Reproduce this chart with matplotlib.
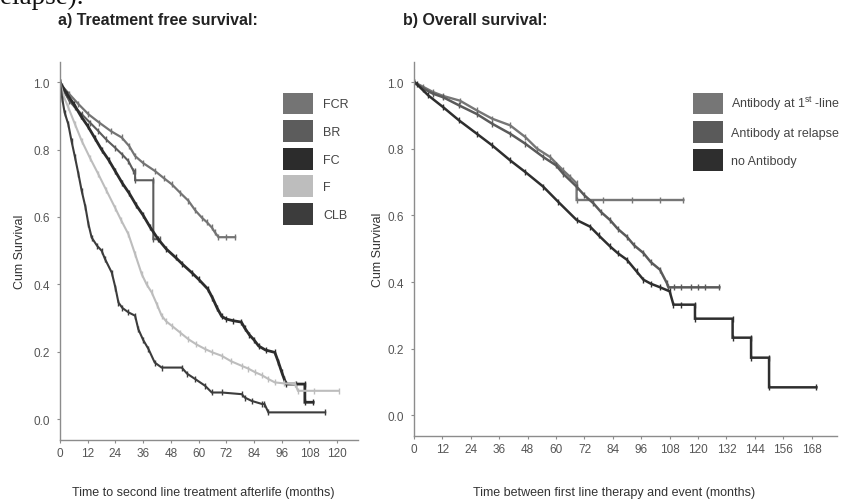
import numpy as np
import matplotlib
matplotlib.use("Agg")
import matplotlib.pyplot as plt
from matplotlib.patches import Patch

plt.rcParams['font.family'] = ['Liberation Sans', 'DejaVu Sans']
plt.rcParams['mathtext.fontset'] = 'custom'
plt.rcParams['mathtext.rm'] = 'Liberation Sans'

#================================== data, panel a (months, cum survival)
fcr_t = [0, 0.7, 4, 8, 12.3, 17, 22, 26.7, 30, 32.5, 36, 41, 45, 48.4, 52, 55.6, 58.5, 61.4, 63.5, 65.7, 67, 68.6, 72, 75.8]
fcr_s = [1.0, 0.99, 0.965, 0.935, 0.905, 0.88, 0.855, 0.836, 0.81, 0.781, 0.76, 0.737, 0.715, 0.697, 0.672, 0.648, 0.62, 0.598, 0.585, 0.569, 0.555, 0.54, 0.54, 0.54]

br_t = [0, 2, 4, 6.5, 9.4, 13, 16.6, 20, 23.8, 27, 29.6, 31.8, 32.5, 32.5, 40.4, 40.4, 43.3]
br_s = [1.0, 0.97, 0.945, 0.925, 0.905, 0.88, 0.855, 0.83, 0.806, 0.785, 0.766, 0.737, 0.737, 0.709, 0.709, 0.534, 0.534]

fc_t = [0, 3, 6, 9, 12, 15, 18, 21, 24, 27, 30, 33, 36, 39, 42.5, 46, 50, 53, 57, 60, 64, 66, 68, 70, 72, 75,
        78.5, 80, 82, 84, 86, 89, 93, 94.5, 96, 97, 98, 102, 106, 106, 109.6]
fc_s = [1.0, 0.965, 0.935, 0.9, 0.87, 0.835, 0.80, 0.77, 0.735, 0.70, 0.67, 0.635, 0.605, 0.57, 0.534, 0.505, 0.48, 0.46, 0.435, 0.415, 0.386, 0.36, 0.33, 0.305, 0.297, 0.292,
        0.288, 0.27, 0.25, 0.235, 0.217, 0.205, 0.198, 0.17, 0.139, 0.12, 0.104, 0.104, 0.104, 0.05, 0.05]

f_t = [0, 1.5, 3.6, 6.5, 9.4, 13, 16.6, 20, 23.8, 26.5, 29.6, 32.5, 35.4, 37.5, 39.7, 42, 44, 46, 48.4, 52, 55.6, 59, 62.8, 66, 70, 74,
       78.7, 81.5, 84.5, 87.5, 90.2, 93, 97, 101.8, 103, 110, 120.6]
f_s = [1.0, 0.96, 0.925, 0.875, 0.826, 0.775, 0.727, 0.68, 0.628, 0.59, 0.549, 0.49, 0.43, 0.40, 0.376, 0.34, 0.307, 0.29, 0.277, 0.257, 0.237, 0.222, 0.208, 0.198, 0.188, 0.172,
       0.158, 0.15, 0.139, 0.13, 0.119, 0.109, 0.106, 0.104, 0.084, 0.084, 0.084]

clb_t = [0, 1, 2, 3.6, 5, 6.5, 8, 9.4, 11, 12.3, 13.7, 16, 18, 19.5, 22.4, 24, 25.3, 27, 29.6, 32.5, 33.9, 36, 38.3, 41, 44,
         52.7, 55, 58.5, 62.8, 65.7, 70, 78.7, 80, 83, 87.4, 88.5, 90.2, 114.8]
clb_s = [1.0, 0.95, 0.91, 0.875, 0.825, 0.777, 0.727, 0.677, 0.63, 0.579, 0.539, 0.515, 0.50, 0.475, 0.435, 0.39, 0.346, 0.33, 0.317, 0.307, 0.267, 0.235, 0.208, 0.168, 0.153,
         0.153, 0.135, 0.119, 0.099, 0.079, 0.079, 0.074, 0.064, 0.054, 0.045, 0.045, 0.02, 0.02]

labels_a = ['FCR', 'BR', 'FC', 'F', 'CLB']
colors_a = ['#747474', '#5c5c5c', '#2c2c2c', '#bdbdbd', '#3c3c3c']
widths_a = [1.6, 1.5, 2.0, 1.5, 1.5]
ticks_a = [0, 12, 24, 36, 48, 60, 72, 84, 96, 108, 120]

#================================== data, panel b
ab1_t = [0, 4, 8, 12.4, 19.4, 26.5, 33, 40.6, 47, 52, 57.5, 63, 66, 68.7, 68.7, 80, 92, 104, 113.8]
ab1_s = [1.0, 0.985, 0.97, 0.958, 0.944, 0.915, 0.89, 0.87, 0.835, 0.80, 0.775, 0.735, 0.715, 0.696, 0.646, 0.646, 0.646, 0.646, 0.646]

abr_t = [0, 4, 8, 12.4, 19, 26.5, 33, 40.6, 47, 54.6, 60, 63, 68.7, 72, 75.8, 79, 82.8, 86, 89.9, 93, 96.9, 100, 103.9, 106.8,
         107.5, 110, 113, 117, 120, 123, 129]
abr_s = [1.0, 0.98, 0.965, 0.954, 0.93, 0.904, 0.875, 0.845, 0.815, 0.775, 0.75, 0.725, 0.686, 0.66, 0.636, 0.61, 0.586, 0.56, 0.536, 0.51, 0.487, 0.46, 0.437, 0.397,
         0.384, 0.384, 0.384, 0.384, 0.384, 0.384, 0.384]

noab_t = [0, 1.1, 6, 12.4, 19, 26.5, 33, 40.6, 47, 54.6, 61, 68.7, 74.4, 78, 82.8, 86, 89.9, 94, 96.9, 100, 104, 108, 109.6,
          113, 118.7, 118.7, 134.6, 134.6, 142.4, 142.4, 150, 150, 170]
noab_s = [1.0, 0.994, 0.96, 0.924, 0.885, 0.845, 0.81, 0.765, 0.73, 0.686, 0.64, 0.586, 0.566, 0.54, 0.507, 0.487, 0.467, 0.432, 0.407, 0.395, 0.384, 0.372, 0.332,
          0.332, 0.332, 0.29, 0.29, 0.233, 0.233, 0.173, 0.173, 0.084, 0.084]

labels_b = ['Antibody at 1$^{\\mathrm{st}}$ -line', 'Antibody at relapse', 'no Antibody']
colors_b = ['#767676', '#5a5a5a', '#2e2e2e']
widths_b = [1.7, 1.8, 1.8]
ticks_b = [0, 12, 24, 36, 48, 60, 72, 84, 96, 108, 120, 132, 144, 156, 168]


#==================================
def StyleAxes(ax, xmax, ticks):
  for side in ['top', 'right']:
    ax.spines[side].set_visible(False)
  for side in ['left', 'bottom']:
    ax.spines[side].set_color('#8c8c8c')
    ax.spines[side].set_linewidth(1.0)
  ax.set_xlim(0, xmax)
  ax.set_ylim(-0.062, 1.06)
  ax.set_xticks(ticks)
  ax.set_yticks([0.0, 0.2, 0.4, 0.6, 0.8, 1.0])
  ax.set_yticklabels(['0.0', '0.2', '0.4', '0.6', '0.8', '1.0'])
  ax.tick_params(axis='both', colors='#8c8c8c', labelcolor='#555555', labelsize=8.5, length=2.5, width=0.8)
  ax.tick_params(axis='y', pad=5)
  ax.tick_params(axis='x', pad=2.5)


def DrawCurve(ax, t, s, color, lw):
  ax.plot(t, s, color=color, lw=lw, marker='|', ms=4, mew=1.0, solid_joinstyle='miter')


#==================================
def DrawFig():
  fig = plt.figure(figsize=(8.48, 5.02), dpi=100)
  W, H = 848.0, 502.0

  # cut-off caption text of the page above
  fig.text(-9 / W, 1 - 4 / H, 'relapse).', fontsize=19.5, family='Liberation Serif', va='baseline', ha='left', color='#111111')

  # ---- panel a
  ax1 = fig.add_axes([60 / W, 1 - 441 / H, 298 / W, 378 / H])
  StyleAxes(ax1, 129, ticks_a)
  series_a = [(fcr_t, fcr_s), (br_t, br_s), (fc_t, fc_s), (f_t, f_s), (clb_t, clb_s)]
  for (t, s), c, w in zip(series_a, colors_a, widths_a):
    DrawCurve(ax1, t, s, c, w)
  ax1.set_ylabel('Cum Survival', fontsize=9, color='#333333')
  ax1.yaxis.set_label_coords(-0.115, 0.5)
  ax1.set_xlabel('Time to second line treatment afterlife (months)', fontsize=9, color='#333333', va='top')
  ax1.xaxis.set_label_coords(0.48, -0.122)
  fig.text(58 / W, 1 - 20 / H, 'a) Treatment free survival:', fontsize=11.5, fontweight='bold', va='center', ha='left', color='#222222')

  h1 = [Patch(facecolor=c, edgecolor='none') for c in colors_a]
  fs = 9 * 100 / 72.0
  ax1.legend(h1, labels_a, loc='upper left', bbox_to_anchor=(283 / W, 1 - 93.5 / H), bbox_transform=fig.transFigure,
             frameon=False, fontsize=9, borderpad=0, borderaxespad=0, handlelength=30 / fs, handleheight=29 / fs,
             labelspacing=5.7 / fs, handletextpad=10 / fs, labelcolor='#444444')

  # ---- panel b
  ax2 = fig.add_axes([414 / W, 1 - 437 / H, 423 / W, 374 / H])
  StyleAxes(ax2, 178.7, ticks_b)
  series_b = [(ab1_t, ab1_s), (abr_t, abr_s), (noab_t, noab_s)]
  for (t, s), c, w in zip(series_b, colors_b, widths_b):
    DrawCurve(ax2, t, s, c, w)
  ax2.set_ylabel('Cum Survival', fontsize=9, color='#333333')
  ax2.yaxis.set_label_coords(-0.072, 0.5)
  ax2.set_xlabel('Time between first line therapy and event (months)', fontsize=9, color='#333333', va='top')
  ax2.xaxis.set_label_coords(0.473, -0.135)
  fig.text(403 / W, 1 - 20 / H, 'b) Overall survival:', fontsize=11.5, fontweight='bold', va='center', ha='left', color='#222222')

  h2 = [Patch(facecolor=c, edgecolor='none') for c in colors_b]
  ax2.legend(h2, labels_b, loc='upper left', bbox_to_anchor=(693 / W, 1 - 93.5 / H), bbox_transform=fig.transFigure,
             frameon=False, fontsize=9, borderpad=0, borderaxespad=0, handlelength=30 / fs, handleheight=29 / fs,
             labelspacing=6.5 / fs, handletextpad=8 / fs, labelcolor='#444444')

  plt.savefig('out.png', dpi=100)
  return


#==================================
def main():
  DrawFig()
  return

if __name__ == '__main__':
  main()
